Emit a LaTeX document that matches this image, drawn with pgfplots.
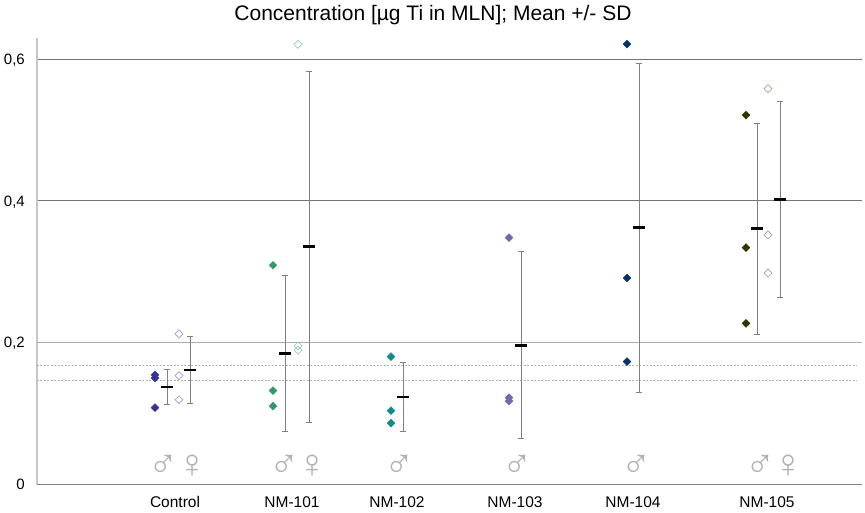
\documentclass[border=0pt]{standalone}
\usepackage{fontspec}
\setmainfont{Liberation Sans}
\usepackage{pgfplots}
\usepackage{pgfplotstable}
\pgfplotsset{compat=1.18}

\definecolor{cCtrl}{HTML}{333399}
\definecolor{cCtrlF}{HTML}{9C9CE6}
\definecolor{cA}{HTML}{339966}
\definecolor{cAF}{HTML}{99CCB0}
\definecolor{cB}{HTML}{138A8A}
\definecolor{cC}{HTML}{6B6BAF}
\definecolor{cD}{HTML}{003366}
\definecolor{cE}{HTML}{333300}
\definecolor{cEF}{HTML}{A6A68C}
\definecolor{errgray}{HTML}{808080}

% single animals (x = position on the chart)
\pgfplotstableread{
x y
155 0.154
155 0.150
155 0.108
}\ptsCtrlM
\pgfplotstableread{
x y
179 0.212
179 0.153
179 0.119
}\ptsCtrlF
\pgfplotstableread{
x y
273 0.309
273 0.132
273 0.110
}\ptsAM
\pgfplotstableread{
x y
298 0.621
298 0.195
298 0.189
}\ptsAF
\pgfplotstableread{
x y
391 0.180
391 0.1035
391 0.086
}\ptsBM
\pgfplotstableread{
x y
509 0.348
509 0.122
509 0.117
}\ptsCM
\pgfplotstableread{
x y
627 0.6215
627 0.291
627 0.173
}\ptsDM
\pgfplotstableread{
x y
746 0.521
746 0.334
746 0.227
}\ptsEM
\pgfplotstableread{
x y
768 0.5585
768 0.352
768 0.298
}\ptsEF

% group mean and SD
\pgfplotstableread{
x m sd
167 0.137 0.0245
190 0.161 0.047
285 0.184 0.110
309 0.335 0.248
403 0.123 0.049
521 0.196 0.132
639 0.362 0.232
757 0.361 0.149
780 0.402 0.138
}\meansd

\tikzset{
  male/.style={only marks, mark=square*, mark size=2.8pt,
    mark options={rotate=45, draw=#1, fill=#1}},
  female/.style={only marks, mark=square, mark size=2.8pt,
    mark options={rotate=45, draw=#1, fill=white, line width=0.7pt}},
  sym/.style={text=black!30, font=\fontsize{40}{40}\selectfont, inner sep=0pt},
}

\begin{document}
\begin{tikzpicture}
\path[use as bounding box] (-37pt,-28pt) rectangle (828pt,484pt);
\begin{axis}[
    at={(0pt,0pt)}, anchor=south west,
    scale only axis, width=825pt, height=446pt,
    xmin=37, xmax=862, ymin=0, ymax=0.63,
    axis x line*=bottom, axis y line*=left,
    x axis line style={draw=black!50, line width=0.8pt},
    y axis line style={draw=black!22, line width=2pt},
    xtick={175,292,397,515,633,767},
    xticklabels={Control,NM-101,NM-102,NM-103,NM-104,NM-105},
    ytick={0,0.4,0.6}, yticklabels={0,{0,4},{0,6}},
    extra y ticks={0.2}, extra y tick labels={0{,}2},
    ymajorgrids,
    major grid style={draw=black!55, line width=0.7pt},
    extra y tick style={grid=major, major grid style={draw=black!32, line width=1.8pt}},
    major tick length=0pt,
    tick label style={font=\fontsize{15}{18}\selectfont, inner sep=0pt},
    xticklabel style={font=\fontsize{15.5}{18}\selectfont, anchor=base, yshift=-23pt},
    yticklabel style={anchor=base east, xshift=-12pt, yshift=-5.3pt},
    title={Concentration [µg Ti in MLN]; Mean +/- SD},
    title style={at={(axis description cs:0.48,1)}, anchor=base,
      yshift=11.3pt, inner sep=0pt, font=\fontsize{21}{24}\selectfont},
    clip=false,
]
% reference levels
\addplot[draw=black!30, line width=0.6pt, dash pattern=on 2pt off 1.5pt] coordinates {(37,0.168) (857,0.168)};
\addplot[draw=black!30, line width=0.6pt, dash pattern=on 2pt off 1.5pt] coordinates {(37,0.147) (857,0.147)};

\addplot[male=cCtrl] table {\ptsCtrlM};
\addplot[female=cCtrlF] table {\ptsCtrlF};
\addplot[male=cA] table {\ptsAM};
\addplot[female=cAF] table {\ptsAF};
\addplot[male=cB] table {\ptsBM};
\addplot[male=cC] table {\ptsCM};
\addplot[male=cD] table {\ptsDM};
\addplot[male=cE] table {\ptsEM};
\addplot[female=cEF] table {\ptsEF};

% mean +/- SD
\addplot[only marks, mark=-, mark size=6pt, mark options={draw=black, line width=2.8pt},
    error bars/.cd, y dir=both, y explicit,
    error bar style={draw=errgray, line width=0.8pt},
    error mark options={rotate=90, draw=errgray, line width=0.8pt, mark size=3pt}]
  table[x=x, y=m, y error=sd] {\meansd};

\node[sym] at (axis cs:163,0.025) {♂};
\node[sym] at (axis cs:192,0.025) {♀};
\node[sym] at (axis cs:284,0.025) {♂};
\node[sym] at (axis cs:312,0.025) {♀};
\node[sym] at (axis cs:399,0.025) {♂};
\node[sym] at (axis cs:517,0.025) {♂};
\node[sym] at (axis cs:636,0.025) {♂};
\node[sym] at (axis cs:760,0.025) {♂};
\node[sym] at (axis cs:788,0.025) {♀};
\end{axis}
\end{tikzpicture}
\end{document}
